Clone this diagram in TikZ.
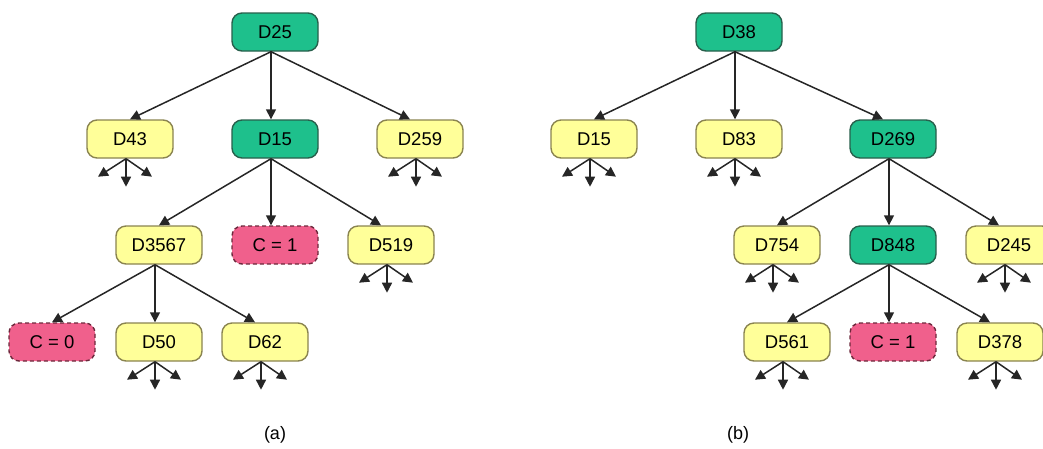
\documentclass[tikz,border=0pt]{standalone}
\usepackage{fontspec}
\setmainfont{Liberation Sans}
\usetikzlibrary{arrows.meta}

\definecolor{greenfill}{RGB}{30,192,140}
\definecolor{greenline}{RGB}{40,96,76}
\definecolor{yellowfill}{RGB}{255,255,153}
\definecolor{yellowline}{RGB}{138,132,80}
\definecolor{pinkfill}{RGB}{240,96,140}
\definecolor{pinkline}{RGB}{108,40,60}

\newcommand\treetip{-{Triangle[length=10pt,width=10pt]}}
\newcommand\stubs[1]{
  \draw[\treetip] ([xshift=-4pt]#1.south) -- ++ (-28, -18) ;
  \draw[\treetip] ([xshift=-4pt]#1.south) -- ++ (0, -28) ;
  \draw[\treetip] ([xshift=-4pt]#1.south) -- ++ (26, -18) ;
}
\newcommand\kids[4]{
  \draw[\treetip] ([xshift=-4pt]#1.south) -- (#2.north) ;
  \draw[\treetip] ([xshift=-4pt]#1.south) -- ([xshift=-4pt]#3.north) ;
  \draw[\treetip] ([xshift=-4pt]#1.south) -- ([xshift=-10pt]#4.north) ;
}

\tikzset{
  treebox/.style={rectangle, rounded corners=10pt, minimum width=86pt, minimum height=38pt,
    line width=1.4pt, font=\fontsize{18.5}{22}\selectfont},
  greenbox/.style={treebox, draw=greenline, fill=greenfill},
  yellowbox/.style={treebox, draw=yellowline, fill=yellowfill},
  pinkbox/.style={treebox, draw=pinkline, fill=pinkfill, dash pattern=on 4pt off 3pt},
}

\begin{document}
\begin{tikzpicture}[x=1pt, y=1pt, line width=1.5pt, draw=black!85]
    \useasboundingbox (0, 0) rectangle (1043, -448) ;
    \clip (0, 0) rectangle (1043, -448) ;
    % tree (a)
    \node[greenbox] (a25) at (275, -32) {D25} ;
    \node[yellowbox] (a43) at (130, -139) {D43} ;
    \node[greenbox] (a15) at (275, -139) {D15} ;
    \node[yellowbox] (a259) at (420, -139) {D259} ;
    \node[yellowbox] (a3567) at (159, -245) {D3567} ;
    \node[pinkbox] (ac1) at (275, -245) {C = 1} ;
    \node[yellowbox] (a519) at (391, -245) {D519} ;
    \node[pinkbox] (ac0) at (52, -342) {C = 0} ;
    \node[yellowbox] (a50) at (159, -342) {D50} ;
    \node[yellowbox] (a62) at (265, -342) {D62} ;
    \node[font=\fontsize{18}{21}\selectfont] (alabel) at (275, -435) {(a)} ;
    \kids{a25}{a43}{a15}{a259}
    \kids{a15}{a3567}{ac1}{a519}
    \kids{a3567}{ac0}{a50}{a62}
    \stubs{a43} \stubs{a259} \stubs{a519} \stubs{a50} \stubs{a62}
    % tree (b)
    \node[greenbox] (b38) at (739, -32) {D38} ;
    \node[yellowbox] (b15) at (594, -139) {D15} ;
    \node[yellowbox] (b83) at (739, -139) {D83} ;
    \node[greenbox] (b269) at (893, -139) {D269} ;
    \node[yellowbox] (b754) at (777, -245) {D754} ;
    \node[greenbox] (b848) at (893, -245) {D848} ;
    \node[yellowbox] (b245) at (1009, -245) {D245} ;
    \node[yellowbox] (b561) at (787, -342) {D561} ;
    \node[pinkbox] (bc1) at (893, -342) {C = 1} ;
    \node[yellowbox] (b378) at (1000, -342) {D378} ;
    \node[font=\fontsize{18}{21}\selectfont] (blabel) at (738, -435) {(b)} ;
    \kids{b38}{b15}{b83}{b269}
    \kids{b269}{b754}{b848}{b245}
    \kids{b848}{b561}{bc1}{b378}
    \stubs{b15} \stubs{b83} \stubs{b754} \stubs{b245} \stubs{b561} \stubs{b378}
\end{tikzpicture}
\end{document}
